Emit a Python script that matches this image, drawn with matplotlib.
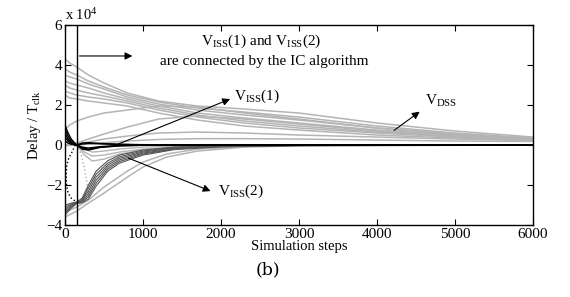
import matplotlib
matplotlib.use("Agg")
import matplotlib.pyplot as plt

plt.rcParams['font.family'] = ['Liberation Serif', 'DejaVu Serif']
plt.rcParams['mathtext.fontset'] = 'custom'
plt.rcParams['mathtext.rm'] = 'Liberation Serif'
plt.rcParams['mathtext.it'] = 'Liberation Serif:italic'

# delay values are in units of 1e4 clock periods
# V_DSS curves (light gray, mostly above zero)
x_dss = [0, 60, 150, 300, 500, 800, 1200, 1700, 2300, 3000, 4000, 5000, 6000]
dss_1 = [4.3, 4.1, 3.9, 3.5, 3.1, 2.6, 2.2, 1.95, 1.8, 1.6, 1.1, 0.7, 0.4]
dss_2 = [3.8, 3.65, 3.5, 3.2, 2.9, 2.5, 2.15, 1.85, 1.65, 1.4, 0.95, 0.6, 0.35]
dss_3 = [3.5, 3.4, 3.3, 3.05, 2.8, 2.4, 2.05, 1.75, 1.5, 1.25, 0.85, 0.55, 0.32]
dss_4 = [3.2, 3.1, 3.0, 2.85, 2.6, 2.3, 1.95, 1.6, 1.35, 1.1, 0.75, 0.5, 0.3]
dss_5 = [3.0, 2.85, 2.75, 2.6, 2.45, 2.2, 1.85, 1.5, 1.2, 0.95, 0.65, 0.45, 0.28]
dss_6 = [2.7, 2.6, 2.5, 2.4, 2.3, 2.1, 1.75, 1.4, 1.1, 0.85, 0.6, 0.4, 0.26]
dss_7 = [2.5, 2.35, 2.3, 2.2, 2.1, 1.95, 1.6, 1.25, 0.95, 0.75, 0.5, 0.35, 0.24]
dss_8 = [0.8, 1.0, 1.2, 1.4, 1.6, 1.75, 1.95, 1.9, 1.6, 1.3, 0.85, 0.55, 0.33]
dss_9 = [0.0, 0.05, 0.1, 0.3, 0.55, 0.9, 1.3, 1.45, 1.3, 1.05, 0.7, 0.45, 0.28]
dss_10 = [0.0, 0.0, 0.05, 0.15, 0.3, 0.45, 0.6, 0.65, 0.6, 0.5, 0.4, 0.3, 0.22]
dss_11 = [0.0, 0.0, 0.0, 0.05, 0.12, 0.2, 0.28, 0.32, 0.32, 0.3, 0.25, 0.2, 0.18]

# light gray curves below zero
x_low = [0, 150, 300, 500, 800, 1000, 1300, 1700, 2300, 3000, 6000]
low_1 = [-3.6, -3.3, -2.9, -2.4, -1.6, -1.1, -0.6, -0.3, -0.1, -0.04, 0]
low_2 = [-3.35, -3.1, -2.75, -2.1, -1.3, -0.85, -0.45, -0.2, -0.07, -0.02, 0]
x_dip = [0, 80, 150, 250, 350, 500, 700, 1000, 1500, 2500, 6000]
dip_1 = [0.3, 0.1, 0, -0.5, -0.8, -0.7, -0.45, -0.25, -0.1, -0.03, 0]
dip_2 = [0.5, 0.2, 0, -0.35, -0.55, -0.5, -0.35, -0.2, -0.08, -0.02, 0]
dip_3 = [0.2, 0.05, 0, -0.2, -0.35, -0.3, -0.2, -0.1, -0.05, -0.01, 0]

# V_ISS(2) (dark gray)
x_iss2 = [0, 80, 150, 220, 300, 400, 550, 700, 1000, 1400, 2000, 3000, 6000]
iss2_1 = [-3.0, -2.9, -2.85, -2.65, -2.0, -1.3, -0.78, -0.5, -0.25, -0.1, -0.04, -0.01, 0]
iss2_2 = [-3.1, -2.95, -2.85, -2.72, -2.15, -1.45, -0.9, -0.58, -0.3, -0.12, -0.05, -0.015, 0]
iss2_3 = [-3.2, -3.0, -2.87, -2.78, -2.3, -1.6, -1.0, -0.66, -0.35, -0.15, -0.06, -0.02, 0]
iss2_4 = [-3.3, -3.05, -2.9, -2.83, -2.45, -1.75, -1.1, -0.74, -0.4, -0.18, -0.07, -0.02, 0]
iss2_5 = [-3.4, -3.1, -2.9, -2.86, -2.58, -1.9, -1.2, -0.82, -0.45, -0.2, -0.08, -0.025, 0]
iss2_6 = [-3.5, -3.15, -2.92, -2.88, -2.7, -2.05, -1.3, -0.9, -0.5, -0.23, -0.09, -0.03, 0]

# V_ISS(1) (black)
x_iss1 = [0, 40, 80, 150, 220, 300, 450, 700, 1000, 2000, 6000]
iss1_1 = [1.0, 0.6, 0.3, 0.0, -0.2, -0.25, -0.12, -0.04, -0.01, 0, 0]
iss1_2 = [0.8, 0.45, 0.2, 0.0, -0.15, -0.2, -0.1, -0.03, -0.01, 0, 0]
iss1_3 = [0.6, 0.3, 0.12, 0.0, -0.1, -0.15, -0.08, -0.02, 0, 0, 0]
iss1_4 = [0.4, 0.2, 0.08, 0.0, 0.05, 0.08, 0.06, 0.03, 0.01, 0, 0]
iss1_5 = [0.2, 0.1, 0.04, 0.0, 0.1, 0.12, 0.08, 0.04, 0.02, 0, 0]

# dotted transients around the connection step
dot_k_x = [130, 90, 50, 25, 15, 20, 40, 80, 130, 170]
dot_k_y = [0, -0.35, -0.65, -0.95, -1.5, -2.0, -2.4, -2.65, -2.8, -2.85]
dot_g_x = [150, 200, 240, 270, 290, 310]
dot_g_y = [0, -0.4, -1.0, -1.6, -2.1, -2.6]

connect_step = 150

fig = plt.figure(figsize=(5.7, 2.97), dpi=100)
ax = fig.add_axes([0.114, 0.242, 0.821, 0.674])

for y in [dss_1, dss_2, dss_3, dss_4, dss_5, dss_6, dss_7, dss_8, dss_9, dss_10, dss_11]:
    ax.plot(x_dss, y, color='#b4b4b4', lw=1.1)
for y in [low_1, low_2]:
    ax.plot(x_low, y, color='#b4b4b4', lw=1.1)
for y in [dip_1, dip_2, dip_3]:
    ax.plot(x_dip, y, color='#b4b4b4', lw=1.0)
ax.plot(dot_g_x, dot_g_y, color='#b0b0b0', lw=1.0, ls=':')
for y in [iss2_1, iss2_2, iss2_3, iss2_4, iss2_5, iss2_6]:
    ax.plot(x_iss2, y, color='#555555', lw=0.8)
for y in [iss1_1, iss1_2, iss1_3, iss1_4, iss1_5]:
    ax.plot(x_iss1, y, color='black', lw=1.0)
ax.plot(dot_k_x, dot_k_y, color='black', lw=1.0, ls=':')

ax.axvline(connect_step, color='black', lw=1.0)

ax.set_xlim(0, 6000)
ax.set_ylim(-4, 6)
ax.set_xticks([0, 1000, 2000, 3000, 4000, 5000, 6000])
ax.set_yticks([-4, -2, 0, 2, 4, 6])
ax.tick_params(direction='in', length=4, width=0.8, top=True, right=True,
               labelsize=11, pad=2)
for s in ax.spines.values():
    s.set_linewidth(1.0)

ax.set_xlabel('Simulation steps', fontsize=10.5, labelpad=-1)
ax.set_ylabel(r'Delay / T$_{\rm clk}$', fontsize=10.5, labelpad=2)
fig.text(65 / 570, 1 - 20 / 297, r'x 10$^{4}$', fontsize=10.5, va='baseline')

arrow = dict(arrowstyle='-|>', color='black', lw=0.8, mutation_scale=11)
ax.annotate('', xy=(900, 4.45), xytext=(connect_step, 4.45), arrowprops=arrow)
ax.text(2520, 5.2, r'V$_{\rm ISS}$(1) and V$_{\rm ISS}$(2)', fontsize=11,
        ha='center', va='center')
ax.text(2550, 4.15, 'are connected by the IC algorithm', fontsize=11,
        ha='center', va='center')

ax.annotate('', xy=(2150, 2.35), xytext=(650, 0), arrowprops=arrow)
ax.text(2170, 2.45, r'V$_{\rm ISS}$(1)', fontsize=11, ha='left', va='center')

ax.annotate('', xy=(1900, -2.35), xytext=(780, -0.6), arrowprops=arrow)
ax.text(1960, -2.3, r'V$_{\rm ISS}$(2)', fontsize=11, ha='left', va='center')

ax.annotate('', xy=(4577, 1.75), xytext=(4190, 0.65), arrowprops=arrow)
ax.text(4615, 2.2, r'V$_{\rm DSS}$', fontsize=11, ha='left', va='center')

fig.text(268 / 570, 1 - 270 / 297, '(b)', fontsize=12.5, ha='center', va='center',
         family='DejaVu Serif')

fig.savefig('out.png', dpi=100)
